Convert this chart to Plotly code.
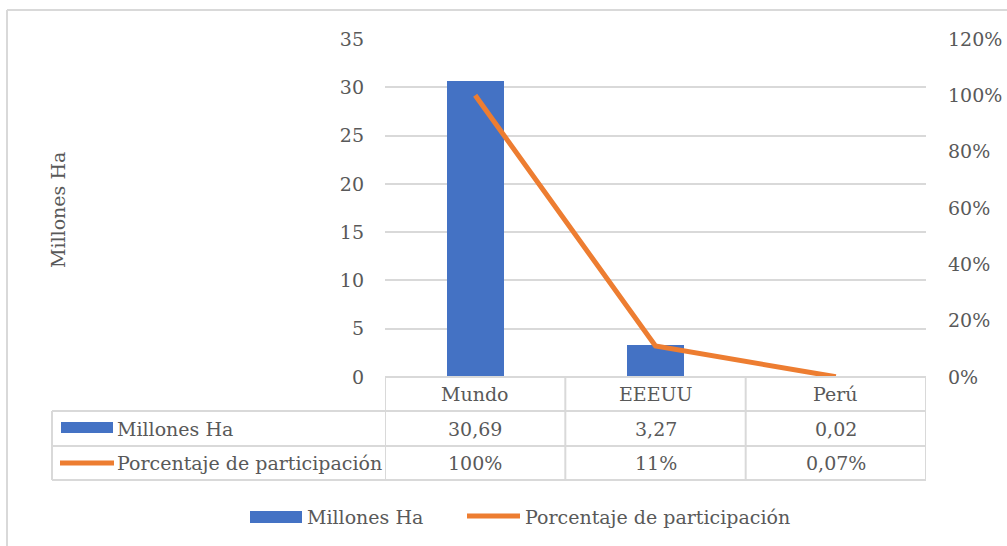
import plotly.graph_objects as go

# Data
categorias = ["Mundo", "EEEUU", "Perú"]
millones_ha = [30.69, 3.27, 0.02]
participacion_pct = [100, 11, 0.07]
serie_barras = "Millones Ha"
serie_linea = "Porcentaje de participación"

AZUL = "#4472C4"
NARANJA = "#ED7D31"
GRIS = "#D9D9D9"
TEXTO = "#595959"
FUENTE = "DejaVu Serif"
TAM = 19

W, H = 1007, 546
ML, MR, MT, MB = 385, 81, 39, 169
PW, PH = W - ML - MR, H - MT - MB


def fx(xpix):
    return (xpix - ML) / PW


def fy(ypix):
    return (H - MB - ypix) / PH


def num_es(v):
    return f"{v:.2f}".replace(".", ",")


def pct_es(v):
    return f"{v:g}".replace(".", ",") + "%"


fig = go.Figure()
fig.add_trace(go.Bar(
    x=categorias, y=millones_ha, name=serie_barras,
    marker=dict(color=AZUL, line=dict(width=0)), width=0.316,
    yaxis="y", hoverinfo="skip",
))
fig.add_trace(go.Scatter(
    x=categorias, y=[p / 100 for p in participacion_pct], name=serie_linea,
    mode="lines", line=dict(color=NARANJA, width=5),
    yaxis="y2", hoverinfo="skip",
))

shapes = []
annotations = []

# Data table rows (pixel rows converted to paper units)
fila_cat, fila_1, fila_2 = 394, 428.5, 463
lin_1, lin_2, lin_3 = 411, 446, 480
x_izq = 52

for yl in (lin_1, lin_2, lin_3):
    shapes.append(dict(type="line", xref="paper", yref="paper",
                       x0=fx(x_izq), x1=1.0, y0=fy(yl), y1=fy(yl),
                       line=dict(color=GRIS, width=2)))
shapes.append(dict(type="line", xref="paper", yref="paper",
                   x0=0, x1=1.0, y0=0, y1=0, line=dict(color=GRIS, width=2)))
for xb in (-0.5, 0.5, 1.5, 2.5):
    shapes.append(dict(type="line", xref="x", yref="paper",
                       x0=xb, x1=xb, y0=0, y1=fy(lin_3),
                       line=dict(color=GRIS, width=2)))
shapes.append(dict(type="line", xref="paper", yref="paper",
                   x0=fx(x_izq), x1=fx(x_izq), y0=fy(lin_1), y1=fy(lin_3),
                   line=dict(color=GRIS, width=2)))

for i, c in enumerate(categorias):
    for texto, yrow in ((c, fila_cat),
                        (num_es(millones_ha[i]), fila_1),
                        (pct_es(participacion_pct[i]), fila_2)):
        annotations.append(dict(x=i, xref="x", y=fy(yrow), yref="paper",
                                text=texto, showarrow=False,
                                xanchor="center", yanchor="middle",
                                font=dict(family=FUENTE, size=TAM, color=TEXTO)))

# Row keys in the table
shapes.append(dict(type="rect", xref="paper", yref="paper",
                   x0=fx(61), x1=fx(113), y0=fy(433), y1=fy(422),
                   fillcolor=AZUL, line=dict(width=0)))
shapes.append(dict(type="line", xref="paper", yref="paper",
                   x0=fx(60), x1=fx(114), y0=fy(fila_2), y1=fy(fila_2),
                   line=dict(color=NARANJA, width=5)))
for texto, yrow in ((serie_barras, fila_1), (serie_linea, fila_2)):
    annotations.append(dict(x=fx(115), xref="paper", y=fy(yrow), yref="paper",
                            text=texto, showarrow=False,
                            xanchor="left", yanchor="middle",
                            font=dict(family=FUENTE, size=TAM, color=TEXTO)))

# Bottom legend
ley_y = 517
shapes.append(dict(type="rect", xref="paper", yref="paper",
                   x0=fx(250), x1=fx(302), y0=fy(523), y1=fy(511),
                   fillcolor=AZUL, line=dict(width=0)))
shapes.append(dict(type="line", xref="paper", yref="paper",
                   x0=fx(467), x1=fx(520), y0=fy(516), y1=fy(516),
                   line=dict(color=NARANJA, width=5)))
annotations.append(dict(x=fx(305), xref="paper", y=fy(ley_y), yref="paper",
                        text=serie_barras, showarrow=False,
                        xanchor="left", yanchor="middle",
                        font=dict(family=FUENTE, size=TAM, color=TEXTO)))
annotations.append(dict(x=fx(523), xref="paper", y=fy(ley_y), yref="paper",
                        text=serie_linea, showarrow=False,
                        xanchor="left", yanchor="middle",
                        font=dict(family=FUENTE, size=TAM, color=TEXTO)))

# Y axis title
annotations.append(dict(x=fx(58), xref="paper", y=fy(210), yref="paper",
                        text=serie_barras, textangle=-90, showarrow=False,
                        xanchor="center", yanchor="middle",
                        font=dict(family=FUENTE, size=TAM, color=TEXTO)))

# Chart frame (left and top edges visible)
shapes.append(dict(type="line", xref="paper", yref="paper",
                   x0=fx(7), x1=fx(7), y0=fy(10), y1=fy(560),
                   line=dict(color=GRIS, width=2)))
shapes.append(dict(type="line", xref="paper", yref="paper",
                   x0=fx(7), x1=fx(1020), y0=fy(10), y1=fy(10),
                   line=dict(color=GRIS, width=2)))

fig.update_layout(
    width=W, height=H,
    margin=dict(l=ML, r=MR, t=MT, b=MB, pad=0, autoexpand=False),
    paper_bgcolor="white", plot_bgcolor="white",
    showlegend=False,
    font=dict(family=FUENTE, size=TAM, color=TEXTO),
    xaxis=dict(range=[-0.5, 2.5], showticklabels=False, showgrid=False,
               zeroline=False, showline=False, ticks="", fixedrange=True,
               automargin=False),
    yaxis=dict(range=[0, 35], dtick=5, tick0=0, showgrid=True,
               gridcolor=GRIS, gridwidth=1.5, zeroline=False, showline=False,
               ticks="", ticklabelstandoff=20, automargin=False,
               tickfont=dict(family=FUENTE, size=TAM, color=TEXTO)),
    yaxis2=dict(range=[0, 1.2], dtick=0.2, tick0=0, overlaying="y",
                side="right", tickformat=".0%", showgrid=False,
                zeroline=False, showline=False, ticks="",
                ticklabelstandoff=21, automargin=False,
                tickfont=dict(family=FUENTE, size=TAM, color=TEXTO)),
    shapes=shapes,
    annotations=annotations,
    bargap=0,
)

fig.write_html("out.html")
